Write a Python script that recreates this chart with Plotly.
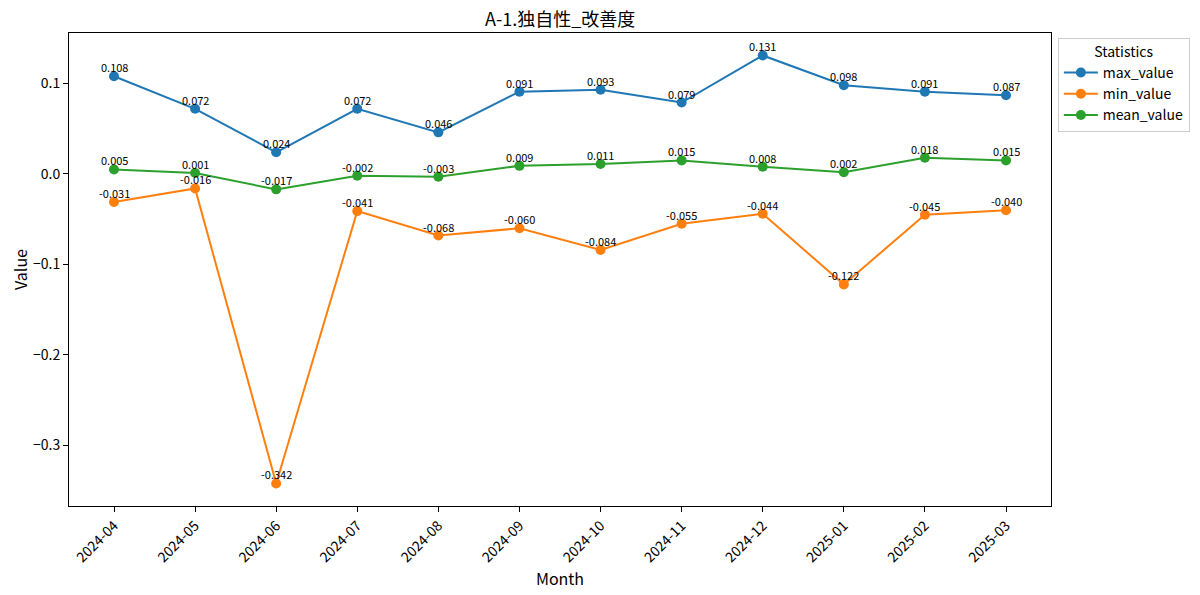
import plotly.graph_objects as go

months = ["2024-04", "2024-05", "2024-06", "2024-07", "2024-08", "2024-09",
          "2024-10", "2024-11", "2024-12", "2025-01", "2025-02", "2025-03"]
max_value = [0.108, 0.072, 0.024, 0.072, 0.046, 0.091, 0.093, 0.079, 0.131, 0.098, 0.091, 0.087]
min_value = [-0.031, -0.016, -0.342, -0.041, -0.068, -0.060, -0.084, -0.055, -0.044, -0.122, -0.045, -0.040]
mean_value = [0.005, 0.001, -0.017, -0.002, -0.003, 0.009, 0.011, 0.015, 0.008, 0.002, 0.018, 0.015]
series_names = ["max_value", "min_value", "mean_value"]
series_colors = ["#1f77b4", "#ff7f0e", "#2ca02c"]
y_tickvals = [0.1, 0.0, -0.1, -0.2, -0.3]
y_ticktext = ["0.1", "0.0", "\u22120.1", "\u22120.2", "\u22120.3"]
chart_title = "A-1.独自性_改善度"

FONT = "Noto Sans CJK JP"
fig = go.Figure()
annotations = []
for name, vals, col in zip(series_names, [max_value, min_value, mean_value], series_colors):
    fig.add_trace(go.Scatter(
        x=list(range(len(months))), y=vals, name=name, mode="lines+markers",
        line=dict(color=col, width=2), marker=dict(color=col, size=10),
    ))
    for i, v in enumerate(vals):
        annotations.append(dict(
            x=i, y=v, xref="x", yref="y", text=f"{v:.3f}", showarrow=False,
            xanchor="center", yanchor="bottom", yshift=-1,
            font=dict(family=FONT, size=11, color="black"),
        ))

annotations.append(dict(
    x=0.5, y=1, xref="paper", yref="paper", text=chart_title, showarrow=False,
    xanchor="center", yanchor="middle", yshift=15,
    font=dict(family=FONT, size=18, color="black"),
))

axis_common = dict(showgrid=False, zeroline=False, showline=True, linecolor="black",
                   linewidth=1, mirror=True, ticks="outside", ticklen=5,
                   tickcolor="black", tickfont=dict(family=FONT, size=14, color="black"))

fig.update_layout(
    width=1200, height=595,
    margin=dict(l=61, r=157, t=25, b=97, autoexpand=False),
    paper_bgcolor="white", plot_bgcolor="white",
    font=dict(family=FONT, color="black"),
    xaxis=dict(**axis_common, range=[-0.555, 11.555], tickmode="array",
               tickvals=list(range(len(months))), ticktext=months, tickangle=-45,
               title=dict(text="Month", font=dict(family=FONT, size=16, color="black"), standoff=6)),
    yaxis=dict(**axis_common, range=[-0.3669, 0.1558], tickmode="array",
               tickvals=y_tickvals, ticktext=y_ticktext,
               title=dict(text="Value", font=dict(family=FONT, size=16, color="black"), standoff=8)),
    legend=dict(x=1.007, y=0.99, xanchor="left", yanchor="top",
                bordercolor="#cccccc", borderwidth=1, bgcolor="white",
                title=dict(text="Statistics", side="top center", font=dict(family=FONT, size=14)),
                font=dict(family=FONT, size=14, color="black"), tracegroupgap=0, itemwidth=34),
    annotations=annotations,
    showlegend=True,
)
fig.write_html("out.html")
